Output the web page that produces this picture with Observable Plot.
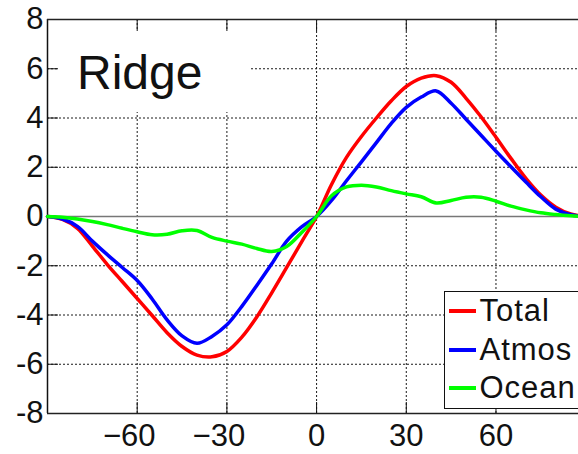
<!DOCTYPE html>
<html>
<head>
<meta charset="utf-8">
<script src="https://cdn.jsdelivr.net/npm/d3@7"></script>
<script src="https://cdn.jsdelivr.net/npm/@observablehq/plot@0.6"></script>
<style>
  html, body { margin: 0; padding: 0; background: #fff; overflow: hidden; }
  #wrap { position: relative; width: 578px; height: 454px; overflow: hidden;
          font-family: "Liberation Sans", Arial, sans-serif; color: #111; }
  #wrap svg { display: block; max-width: none; }
  #ridge { position: absolute; left: 58px; top: 31px; width: 193px; height: 81px;
           box-sizing: border-box; background: #fff; font-size: 48px; line-height: 48px;
           padding-left: 19px; padding-top: 18px; white-space: nowrap; }
  #legend { position: absolute; left: 444px; top: 291px; width: 170px; height: 118px;
            box-sizing: border-box; border: 1.5px solid #111; background: #fff; }
  #legend .row { height: 38.5px; display: flex; align-items: center; font-size: 31px;
                 letter-spacing: 1px; white-space: nowrap; }
  #legend .sw { width: 27px; height: 4px; margin-left: 3.5px; margin-right: 4px; flex: none; }
</style>
</head>
<body>
<div id="wrap"></div>
<script>
// Latitude (degrees)
const lat = [-90, -85, -80, -75, -70, -65, -60, -55, -50, -45, -40, -35, -30, -25, -20, -15, -10, -5, 0,
             5, 10, 15, 20, 25, 30, 35, 40, 45, 50, 55, 60, 65, 70, 75, 80, 85, 90];
// Heat transport (PW)
const total = [0, -0.12, -0.48, -1.2, -1.95, -2.64, -3.33, -4.02, -4.72, -5.28, -5.63, -5.7, -5.48, -4.9, -4.08, -3.1, -2.07, -1.03, 0,
               1.3, 2.4, 3.25, 4.0, 4.7, 5.28, 5.62, 5.72, 5.45, 4.8, 4.05, 3.22, 2.36, 1.55, 0.87, 0.38, 0.1, 0];
const atmos = [0, -0.1, -0.4, -1.0, -1.55, -2.07, -2.6, -3.35, -4.2, -4.85, -5.15, -4.87, -4.4, -3.65, -2.8, -1.92, -1.0, -0.42, 0,
               0.65, 1.45, 2.22, 3.0, 3.78, 4.43, 4.85, 5.1, 4.6, 3.95, 3.3, 2.65, 2.02, 1.4, 0.8, 0.3, 0.07, 0];
const ocean = [0, -0.03, -0.1, -0.2, -0.33, -0.48, -0.62, -0.74, -0.72, -0.58, -0.57, -0.85, -1.0, -1.12, -1.3, -1.42, -1.22, -0.65, 0,
               0.84, 1.2, 1.27, 1.2, 1.05, 0.92, 0.8, 0.55, 0.65, 0.78, 0.78, 0.62, 0.42, 0.27, 0.15, 0.08, 0.03, 0];

const seriesNames = ["Total", "Atmos", "Ocean"];
const seriesColors = ["#ff0000", "#0000ff", "#00ff00"];
const xTicks = [-60, -30, 0, 30, 60];
const yTicks = [-8, -6, -4, -2, 0, 2, 4, 6, 8];
const xDomain = [-90, 87.6];   // right side of the original panel is cropped
const yDomain = [-8, 8];
const panelLabel = "Ridge";

const rows = [];
[total, atmos, ocean].forEach((vals, i) =>
  vals.forEach((v, j) => rows.push({lat: lat[j], value: v, series: seriesNames[i]})));

const dotted = {stroke: "#1a1a1a", strokeOpacity: 1, strokeWidth: 1, strokeDasharray: "2,2"};
const tickStyle = {stroke: "#111", strokeWidth: 1, tickFormat: () => "", label: null, tickSize: 11};
const xFmt = (d) => (d < 0 ? "\u2212" + Math.abs(d) : String(d));
const yFmt = (d) => (d < 0 ? "-" + Math.abs(d) : String(d));

const chart = Plot.plot({
  width: 578,
  height: 454,
  marginLeft: 47,
  marginRight: 0,
  marginTop: 19,
  marginBottom: 41,
  style: {fontFamily: "'Liberation Sans', Arial, sans-serif", fontSize: "31px", color: "#111", background: "white"},
  x: {domain: xDomain, label: null},
  y: {domain: yDomain, label: null},
  color: {domain: seriesNames, range: seriesColors},
  marks: [
    Plot.gridX(xTicks, dotted),
    Plot.gridY(yTicks, dotted),
    Plot.ruleY([0], {stroke: "#777", strokeWidth: 1.3}),
    Plot.axisX(xTicks.filter((d) => d < 0), {anchor: "bottom", tickSize: 0, tickPadding: 10, dx: -8, tickFormat: xFmt, label: null}),
    Plot.axisX(xTicks.filter((d) => d >= 0), {anchor: "bottom", tickSize: 0, tickPadding: 10, tickFormat: xFmt, label: null}),
    Plot.axisY(yTicks, {anchor: "left", tickSize: 0, tickPadding: 4, tickFormat: yFmt, label: null}),
    Plot.axisX(xTicks, {anchor: "bottom", dy: -11, ...tickStyle}),
    Plot.axisX(xTicks, {anchor: "top", dy: 11, ...tickStyle}),
    Plot.axisY(yTicks, {anchor: "left", dx: 11, ...tickStyle}),
    Plot.ruleX([xDomain[0]], {stroke: "#111", strokeWidth: 1.5}),
    Plot.ruleY(yDomain, {stroke: "#222", strokeWidth: 1.5}),
    Plot.line(rows, {x: "lat", y: "value", z: "series", stroke: "series", strokeWidth: 3.5, curve: "catmull-rom"})
  ]
});

const wrap = document.getElementById("wrap");
wrap.appendChild(chart);

const ridge = document.createElement("div");
ridge.id = "ridge";
ridge.textContent = panelLabel;
wrap.appendChild(ridge);

const legend = document.createElement("div");
legend.id = "legend";
seriesNames.forEach((name, i) => {
  const row = document.createElement("div");
  row.className = "row";
  const sw = document.createElement("span");
  sw.className = "sw";
  sw.style.background = seriesColors[i];
  const t = document.createElement("span");
  t.textContent = name;
  row.appendChild(sw);
  row.appendChild(t);
  legend.appendChild(row);
});
wrap.appendChild(legend);
</script>
</body>
</html>
